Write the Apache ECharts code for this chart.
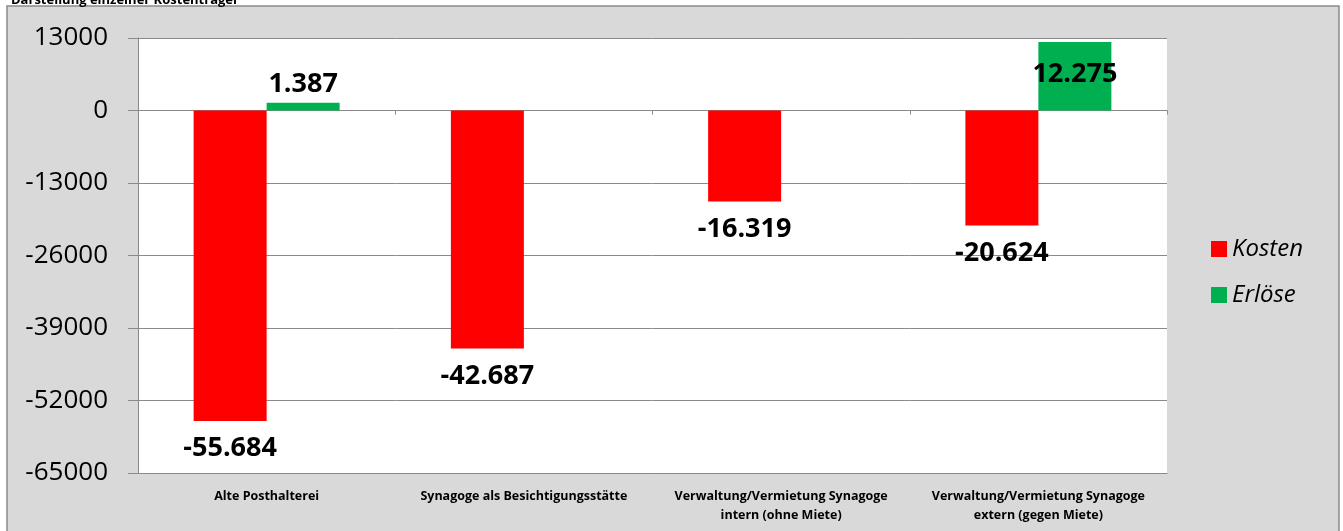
<!DOCTYPE html>
<html>
<head>
<meta charset="utf-8">
<script src="https://cdn.jsdelivr.net/npm/echarts@6/dist/echarts.min.js"></script>
<style>
  html, body { margin: 0; padding: 0; background: #fff; }
  #chart { width: 1343px; height: 531px; }
</style>
</head>
<body>
<div id="chart"></div>
<script>
// Daten
const categories = [
    "Alte Posthalterei",
    "Synagoge als Besichtigungsstätte",
    "Verwaltung/Vermietung Synagoge\nintern (ohne Miete)",
    "Verwaltung/Vermietung Synagoge\nextern (gegen Miete)"
];
const kosten = [-55684, -42687, -16319, -20624];
const erloese = [1387, null, null, 12275];
const yTicks = { min: -65000, max: 13000, step: 13000 };

const FONT = "'Open Sans', 'Liberation Sans', sans-serif";
const GRAY = "#8a8a8a";

// 1.387 / -55.684 (deutsches Tausendertrennzeichen)
function fmt(v) {
    if (v == null) return "";
    const s = Math.abs(v).toString().replace(/\B(?=(\d{3})+(?!\d))/g, ".");
    return (v < 0 ? "-" : "") + s;
}

const myChart = echarts.init(document.getElementById("chart"));

const option = {
    backgroundColor: "#fff",
    animation: false,
    title: {
        text: "Darstellung einzelner Kostenträger",
        left: 6, top: -11,
        textStyle: { fontFamily: FONT, fontSize: 13, fontWeight: "bold", color: "#000" }
    },
    graphic: [{
        type: "rect",
        z: -10,
        shape: { x: 7, y: 6, width: 1332, height: 540 },
        style: { fill: "#d9d9d9", stroke: GRAY, lineWidth: 1.5 }
    }],
    legend: {
        orient: "vertical",
        left: 1206, top: 232,
        itemWidth: 16, itemHeight: 16, itemGap: 22,
        icon: "rect",
        textStyle: { fontFamily: FONT, fontSize: 24, fontStyle: "italic", color: "#000" },
        data: ["Kosten", "Erlöse"]
    },
    grid: {
        left: 138, right: 176, top: 38, bottom: 58,
        show: true, backgroundColor: "#fff", borderWidth: 0
    },
    xAxis: [{
        type: "category",
        data: categories,
        position: "bottom",
        axisLine: { onZero: false, lineStyle: { color: GRAY } },
        axisTick: { show: false },
        axisLabel: {
            interval: 0, margin: 14,
            fontFamily: FONT, fontSize: 12.5, fontWeight: "bold", color: "#000", lineHeight: 19
        }
    }, {
        // Nulllinie mit Teilstrichen
        type: "category",
        data: categories,
        position: "top",
        axisLine: { onZero: true, lineStyle: { color: GRAY } },
        axisTick: { show: true, inside: true, length: 4, lineStyle: { color: GRAY } },
        axisLabel: { show: false }
    }],
    yAxis: {
        type: "value",
        min: yTicks.min, max: yTicks.max, interval: yTicks.step,
        axisLine: { show: true, lineStyle: { color: GRAY } },
        axisTick: { show: true, length: 10, lineStyle: { color: GRAY } },
        splitLine: { lineStyle: { color: GRAY } },
        axisLabel: {
            margin: 30, fontFamily: FONT, fontSize: 26, color: "#000",
            formatter: v => String(v)
        }
    },
    series: [{
        name: "Kosten",
        type: "bar",
        data: kosten,
        barWidth: 73,
        barGap: "0%",
        itemStyle: { color: "#ff0000" },
        label: {
            show: true, position: "bottom", distance: 14,
            fontFamily: FONT, fontSize: 27, fontWeight: "bold", color: "#000",
            formatter: p => fmt(p.value)
        }
    }, {
        name: "Erlöse",
        type: "bar",
        data: erloese.map((v, i) => i === 3
            ? { value: v, label: { position: "insideTop", distance: 19 } }
            : v),
        barWidth: 73,
        barGap: "0%",
        itemStyle: { color: "#00b050" },
        label: {
            show: true, position: "top", distance: 5,
            fontFamily: FONT, fontSize: 27, fontWeight: "bold", color: "#000",
            formatter: p => fmt(p.value)
        }
    }]
};

myChart.setOption(option);
window.addEventListener("resize", () => myChart.resize());
</script>
</body>
</html>
